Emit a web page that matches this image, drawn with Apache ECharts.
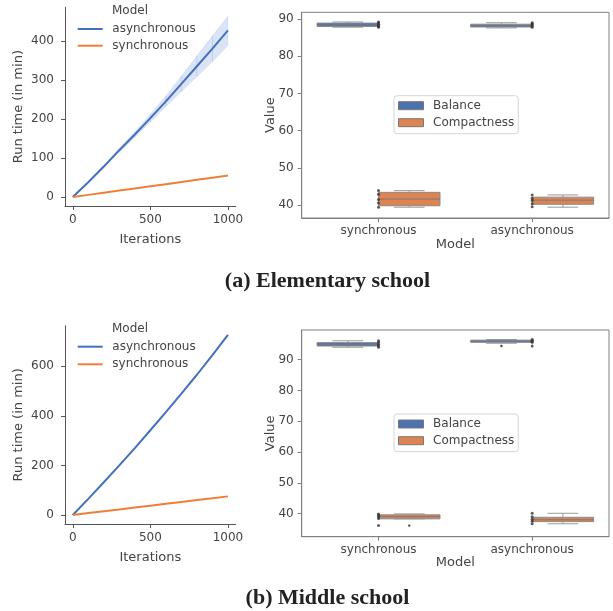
<!DOCTYPE html>
<html><head><meta charset="utf-8">
<script src="https://cdn.jsdelivr.net/npm/echarts@6/dist/echarts.min.js"></script>
<style>html,body{margin:0;padding:0;background:#fff}#c{width:613px;height:611px}</style>
</head><body><div id="c"></div>
<script>
// ---------- data ----------
const iterations = [0,100,200,300,400,500,600,700,800,900,1000];
const elemAsync     = [0,38,78,120,160,202,245,290,335,380,427];
const elemAsyncLow  = [0,37,75,115,153,192,232,270,308,347,388];
const elemAsyncHigh = [0,39,81,125,167,212,259,310,362,413,464];
const elemSync      = [0,5.5,11,16.5,22,27.5,33,38.5,44,49.5,55];
const midAsync      = [0,65,132,200,270,342,415,490,566,645,727];
const midSync       = [0,7.5,15,22.5,30,37.5,45,52.5,60,67.5,75];
const lineTicksX = [0,500,1000];
const elemTicksY = [0,100,200,300,400];
const midTicksY  = [0,200,400,600];
const boxTicksY  = [40,50,60,70,80,90];
const models  = ['synchronous','asynchronous'];
const lineModels = ['asynchronous','synchronous'];
const metrics = ['Balance','Compactness'];
// [modelIndex, min, Q1, median, Q3, max]
const elemBalance     = [[0,87.8,88.0,88.4,88.9,89.2],[1,87.6,87.85,88.2,88.6,89.0]];
const elemCompactness = [[0,39.4,39.8,41.6,43.4,43.85],[1,39.4,40.2,41.3,42.1,42.7]];
const midBalance      = [[0,94.0,94.4,95.0,95.5,96.1],[1,95.3,95.6,96.0,96.3,96.5]];
const midCompactness  = [[0,38.3,38.3,39.0,39.6,39.9],[1,36.7,37.4,38.0,38.8,40.1]];
// outliers [modelIndex, value]
const midBalanceFliers     = [[1,94.4]];
const midCompactnessFliers = [[0,36.1]];
// individual observations [modelIndex, value]
const elemStrip = [[0,89.2],[0,88.9],[0,88.6],[0,88.3],[0,88.0],[0,87.8],
                   [1,89.0],[1,88.7],[1,88.4],[1,88.1],[1,87.8],
                   [0,43.9],[0,42.9],[0,41.5],[0,40.5],[0,39.4],
                   [1,42.7],[1,41.8],[1,41.2],[1,40.3],[1,39.5]];
const midStrip  = [[0,96.1],[0,95.6],[0,95.0],[0,94.5],[0,94.0],
                   [1,96.5],[1,96.2],[1,95.9],[1,95.6],[1,94.4],
                   [0,39.9],[0,39.5],[0,39.0],[0,38.4],[0,36.1],
                   [1,40.1],[1,39.0],[1,38.2],[1,37.5],[1,36.7]];
const captions = ['(a) Elementary school','(b) Middle school'];

// ---------- styles ----------
const BLUE = '#4470c0', ORANGE = '#ee7f3a';
const BOXBLUE = '#4c72b0', BOXORANGE = '#dd8452';
const TXT = '#444', FONT = 'DejaVu Sans';
const SPINE = '#555', FRAME = '#808080';

const pairs = (xs, ys) => xs.map((x, i) => [x, ys[i]]);
const plain = v => String(v);

function lineXAxis(gi, gap) {
  return {
    type: 'value', gridIndex: gi, min: -50, max: 1050,
    name: 'Iterations', nameLocation: 'middle', nameGap: gap, nameMoveOverlap: false,
    nameTextStyle: {fontSize: 13, color: TXT, fontFamily: FONT},
    axisLine: {show: true, onZero: false, lineStyle: {color: SPINE}},
    axisTick: {show: true, length: 4, customValues: lineTicksX, lineStyle: {color: SPINE}},
    axisLabel: {customValues: lineTicksX, formatter: plain, fontSize: 12, color: TXT, fontFamily: FONT, margin: 8},
    splitLine: {show: false}
  };
}
function lineYAxis(gi, min, max, ticks) {
  return {
    type: 'value', gridIndex: gi, min: min, max: max,
    name: 'Run time (in min)', nameLocation: 'middle', nameGap: 39.5, nameRotate: 90, nameMoveOverlap: false,
    nameTextStyle: {fontSize: 13, color: TXT, fontFamily: FONT},
    axisLine: {show: true, onZero: false, lineStyle: {color: SPINE}},
    axisTick: {show: true, length: 4, customValues: ticks, lineStyle: {color: SPINE}},
    axisLabel: {customValues: ticks, formatter: plain, fontSize: 12, color: TXT, fontFamily: FONT, margin: 11},
    splitLine: {show: false}
  };
}
function boxXAxis(gi, gap) {
  return {
    type: 'category', gridIndex: gi, data: models,
    name: 'Model', nameLocation: 'middle', nameGap: gap, nameMoveOverlap: false,
    nameTextStyle: {fontSize: 13, color: TXT, fontFamily: FONT},
    axisLine: {show: true, lineStyle: {color: FRAME}},
    axisTick: {show: true, length: 4, alignWithLabel: true, lineStyle: {color: FRAME}},
    axisLabel: {fontSize: 12, color: TXT, fontFamily: FONT, margin: 7},
    splitLine: {show: false}
  };
}
function boxYAxis(gi, min, max) {
  return {
    type: 'value', gridIndex: gi, min: min, max: max,
    name: 'Value', nameLocation: 'middle', nameGap: 25, nameRotate: 90, nameMoveOverlap: false,
    nameTextStyle: {fontSize: 13, color: TXT, fontFamily: FONT},
    axisLine: {show: true, lineStyle: {color: FRAME}},
    axisTick: {show: true, length: 4, customValues: boxTicksY, lineStyle: {color: FRAME}},
    axisLabel: {customValues: boxTicksY, formatter: plain, fontSize: 12, color: TXT, fontFamily: FONT, margin: 8},
    splitLine: {show: false}
  };
}

function boxRender(side) {
  return function (params, api) {
    const cat = api.value(0);
    const bw = api.size([1, 0])[0];
    const w = bw * 0.4;
    const cMed = api.coord([cat, api.value(3)]);
    const x0 = cMed[0] + (side < 0 ? -w : 0);
    const xc = x0 + w / 2;
    const yMin = api.coord([cat, api.value(1)])[1];
    const yQ1 = api.coord([cat, api.value(2)])[1];
    const yQ3 = api.coord([cat, api.value(4)])[1];
    const yMax = api.coord([cat, api.value(5)])[1];
    const ln = (x1, y1, x2, y2, col) => ({type: 'line', shape: {x1, y1, x2, y2}, style: {stroke: col, lineWidth: 1}});
    const wc = '#9a9a9a';
    return {type: 'group', children: [
      ln(xc, yQ3, xc, yMax, wc), ln(xc, yQ1, xc, yMin, wc),
      ln(xc - w / 4, yMax, xc + w / 4, yMax, wc), ln(xc - w / 4, yMin, xc + w / 4, yMin, wc),
      {type: 'rect', shape: {x: x0, y: yQ3, width: w, height: Math.max(yQ1 - yQ3, 0.5)},
       style: {fill: api.visual('color'), stroke: '#8a8a8a', lineWidth: 1}},
      ln(x0, cMed[1], x0 + w, cMed[1], '#7a7a7a')
    ]};
  };
}
function flierRender(side) {
  return function (params, api) {
    const cat = api.value(0);
    const bw = api.size([1, 0])[0];
    const w = bw * 0.4;
    const c = api.coord([cat, api.value(1)]);
    const xc = c[0] + (side < 0 ? -w / 2 : w / 2);
    return {type: 'circle', shape: {cx: xc, cy: c[1], r: 1.2}, style: {fill: '#444'}};
  };
}
// confidence band drawn as quads between consecutive samples
function bandRender(params, api) {
  const p1 = api.coord([api.value(0), api.value(1)]);
  const p2 = api.coord([api.value(3), api.value(4)]);
  const p3 = api.coord([api.value(3), api.value(5)]);
  const p4 = api.coord([api.value(0), api.value(2)]);
  return {type: 'polygon', shape: {points: [p1, p2, p3, p4]},
          style: {fill: 'rgba(72,120,208,0.2)', stroke: 'rgba(72,120,208,0.2)', lineWidth: 0.5}};
}
const elemBand = iterations.slice(0, -1).map((x, i) =>
  [x, elemAsyncLow[i], elemAsyncHigh[i], iterations[i + 1], elemAsyncLow[i + 1], elemAsyncHigh[i + 1]]);

function boxSeries(gi, name, data, color, side) {
  return {
    type: 'custom', name: name, xAxisIndex: gi, yAxisIndex: gi,
    renderItem: boxRender(side), data: data, itemStyle: {color: color},
    encode: {x: 0, y: [1, 2, 3, 4, 5]}, silent: true, z: 2
  };
}
function flierSeries(gi, data, side) {
  return {
    type: 'custom', name: 'fliers', xAxisIndex: gi, yAxisIndex: gi,
    renderItem: flierRender(side), data: data, encode: {x: 0, y: 1}, silent: true, z: 3
  };
}
function stripSeries(gi, data) {
  return {
    type: 'scatter', name: 'points', xAxisIndex: gi, yAxisIndex: gi, data: data,
    symbolSize: 3, itemStyle: {color: '#333'}, silent: true, z: 4
  };
}

function lineLegend(top, gap) {
  return {
    orient: 'vertical', left: 77.7, top: top, padding: 0, itemGap: gap,
    itemWidth: 25, itemHeight: 2, selectedMode: false,
    textStyle: {fontSize: 12, color: TXT, fontFamily: FONT, lineHeight: 14, padding: [0, 0, 0, 4.6]},
    data: [
      {name: lineModels[0], icon: 'rect', itemStyle: {color: BLUE}},
      {name: lineModels[1], icon: 'rect', itemStyle: {color: ORANGE}}
    ]
  };
}
function boxLegend(top, gap) {
  return {
    orient: 'vertical', left: 394, top: top, padding: [3, 4, 4, 4], itemGap: gap,
    itemWidth: 25, itemHeight: 8, selectedMode: false,
    backgroundColor: '#fff', borderColor: '#d5d5d5', borderWidth: 1, borderRadius: 3,
    textStyle: {fontSize: 12, color: TXT, fontFamily: FONT, lineHeight: 14, padding: [0, 0, 0, 4.6]},
    data: [
      {name: metrics[0], icon: 'rect', itemStyle: {color: BOXBLUE, borderColor: '#777', borderWidth: 1}},
      {name: metrics[1], icon: 'rect', itemStyle: {color: BOXORANGE, borderColor: '#777', borderWidth: 1}}
    ]
  };
}

const titleText = (x, y) => ({type: 'text', style: {text: 'Model', x: x, y: y, align: 'center', verticalAlign: 'middle', fontSize: 12, fill: TXT, fontFamily: FONT}});
const captionText = (t, y) => ({type: 'text', style: {text: t, x: 327.5, y: y, align: 'center', verticalAlign: 'middle', fontSize: 22, fontWeight: 'bold', fill: '#222', fontFamily: 'Liberation Serif'}});

const option = {
  animation: false,
  backgroundColor: '#fff',
  grid: [
    {left: 65, top: 7.3, width: 170.7, height: 198.7},
    {left: 301.7, top: 12.3, width: 307.3, height: 205.7, show: true, borderColor: FRAME, borderWidth: 1},
    {left: 65, top: 325.7, width: 170.7, height: 198.3},
    {left: 301.7, top: 330, width: 307.3, height: 206.7, show: true, borderColor: FRAME, borderWidth: 1}
  ],
  xAxis: [lineXAxis(0, 27.5), boxXAxis(1, 20.5), lineXAxis(2, 26.8), boxXAxis(3, 19.1)],
  yAxis: [lineYAxis(0, -23, 486, elemTicksY), boxYAxis(1, 36.5, 91.8),
          lineYAxis(2, -36.5, 764, midTicksY), boxYAxis(3, 32.5, 99.6)],
  legend: [lineLegend(22, 2.7), boxLegend(95.7, 3), lineLegend(339.7, 3.6), boxLegend(414, 2.7)],
  graphic: [
    titleText(130, 11), titleText(130, 329),
    captionText(captions[0], 281), captionText(captions[1], 598)
  ],
  series: [
    // Elementary line chart
    {type: 'custom', name: 'ci', xAxisIndex: 0, yAxisIndex: 0, data: elemBand, renderItem: bandRender,
     encode: {x: [0, 3], y: [1, 2, 4, 5]}, silent: true, z: 1},
    {type: 'line', name: lineModels[0], xAxisIndex: 0, yAxisIndex: 0, data: pairs(iterations, elemAsync),
     showSymbol: false, lineStyle: {width: 2, color: BLUE}, itemStyle: {color: BLUE}, z: 3},
    {type: 'line', name: lineModels[1], xAxisIndex: 0, yAxisIndex: 0, data: pairs(iterations, elemSync),
     showSymbol: false, lineStyle: {width: 2, color: ORANGE}, itemStyle: {color: ORANGE}, z: 3},
    // Elementary box chart
    boxSeries(1, metrics[0], elemBalance, BOXBLUE, -1),
    boxSeries(1, metrics[1], elemCompactness, BOXORANGE, 1),
    stripSeries(1, elemStrip),
    // Middle line chart
    {type: 'line', name: lineModels[0], xAxisIndex: 2, yAxisIndex: 2, data: pairs(iterations, midAsync),
     showSymbol: false, lineStyle: {width: 2, color: BLUE}, itemStyle: {color: BLUE}, z: 3},
    {type: 'line', name: lineModels[1], xAxisIndex: 2, yAxisIndex: 2, data: pairs(iterations, midSync),
     showSymbol: false, lineStyle: {width: 2, color: ORANGE}, itemStyle: {color: ORANGE}, z: 3},
    // Middle box chart
    boxSeries(3, metrics[0], midBalance, BOXBLUE, -1),
    boxSeries(3, metrics[1], midCompactness, BOXORANGE, 1),
    flierSeries(3, midBalanceFliers, -1),
    flierSeries(3, midCompactnessFliers, 1),
    stripSeries(3, midStrip)
  ]
};
const chart = echarts.init(document.getElementById('c'), null, {renderer: 'canvas'});
chart.setOption(option);
</script>
</body></html>
